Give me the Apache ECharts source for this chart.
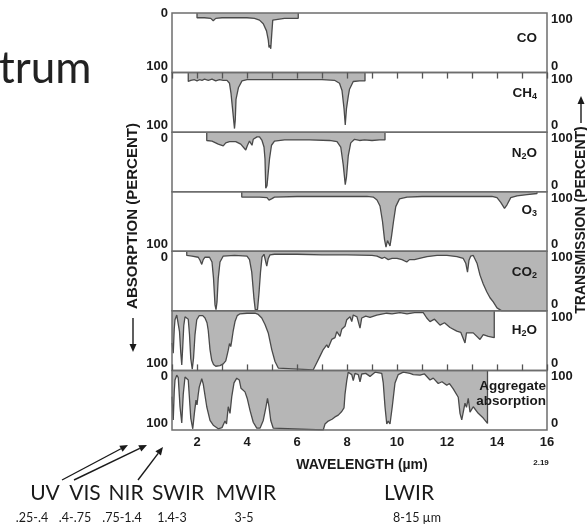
<!DOCTYPE html>
<html>
<head>
<meta charset="utf-8">
<script src="https://cdn.jsdelivr.net/npm/echarts@6/dist/echarts.min.js"></script>
<style>html,body{margin:0;padding:0;background:#fff}#chart{width:587px;height:529px}</style>
</head>
<body>
<div id="chart"></div>
<script>
// absorption (%) per wavelength (um), one array per gas
const coData = [[2,0],[2,8],[2.3,8],[2.55,9],[2.65,13],[2.75,9],[3,8],[3.5,8],[4,8],[4.3,9],[4.5,12],[4.65,18],[4.78,30],[4.85,45],[4.88,58],[4.92,54],[4.95,60],[4.99,35],[5.03,12],[5.1,9],[5.5,9],[6.05,9],[6.05,0]]
const ch4Data = [[1.65,0],[1.65,15],[1.75,13],[1.9,12],[2.0,14],[2.1,12],[2.2,13],[2.3,11],[2.45,13],[2.6,11],[2.75,14],[2.9,12],[3.05,13],[3.2,13],[3.3,18],[3.36,35],[3.42,60],[3.5,94],[3.53,80],[3.56,45],[3.6,46],[3.66,25],[3.8,14],[4,12],[5,12],[6,12],[7,12],[7.5,13],[7.7,18],[7.8,30],[7.88,60],[7.93,88],[7.98,60],[8.05,40],[8.1,28],[8.25,15],[8.5,14],[8.72,14],[8.72,0]]
const n2oData = [[2.39,0],[2.39,14],[2.6,15],[2.85,20],[3.05,23],[3.15,18],[3.3,16],[3.55,16],[3.75,20],[3.95,30],[4.02,22],[4.1,15],[4.2,22],[4.25,12],[4.4,8],[4.5,8],[4.6,14],[4.68,25],[4.72,45],[4.75,94],[4.8,90],[4.85,88],[4.9,45],[4.98,22],[5.1,15],[5.5,13],[6.5,13],[7.3,14],[7.6,16],[7.75,25],[7.85,55],[7.93,88],[7.98,75],[8.05,40],[8.15,18],[8.3,12],[8.5,14],[8.7,13],[9,14],[9.3,13],[9.52,13],[9.52,0]]
const o3Data = [[3.79,0],[3.79,9],[4.5,9],[4.8,10],[4.88,14],[4.93,17],[4.98,12],[5.1,9],[6,8],[7,8],[8,8],[8.8,8],[9.05,9],[9.2,14],[9.32,24],[9.42,50],[9.5,80],[9.56,93],[9.62,82],[9.66,80],[9.72,91],[9.78,75],[9.86,50],[9.95,25],[10.1,12],[10.4,9],[11,8],[12,8],[13,8],[13.8,8],[14.0,10],[14.15,18],[14.3,28],[14.4,22],[14.55,10],[14.8,7],[15.2,5],[15.6,3],[15.6,0]]
const co2Data = [[1.59,0],[1.59,7],[1.8,8],[2.05,10],[2.12,15],[2.19,22],[2.25,14],[2.32,10],[2.5,10],[2.6,18],[2.66,45],[2.72,90],[2.76,98],[2.8,85],[2.85,45],[2.92,18],[3.05,8],[3.5,7],[4.0,8],[4.1,14],[4.19,35],[4.28,80],[4.33,98],[4.42,98],[4.48,70],[4.54,35],[4.6,10],[4.68,5],[4.72,8],[4.79,25],[4.85,12],[4.92,6],[5.1,5],[6,5],[7,6],[8,6],[9,7],[9.2,8],[9.4,12],[9.5,10],[9.65,14],[9.8,12],[10.0,12],[10.2,14],[10.39,18],[10.5,14],[10.7,14],[10.9,12],[11.2,9],[11.6,7],[12,7],[12.4,9],[12.65,12],[12.75,20],[12.82,35],[12.88,15],[12.95,8],[13.05,7],[13.2,20],[13.32,40],[13.45,55],[13.59,68],[13.72,78],[13.85,85],[14.0,95],[14.19,100],[16,100]]
const h2oData = [[1.0,54],[1.05,71],[1.09,30],[1.12,15],[1.19,7],[1.25,10],[1.3,35],[1.35,70],[1.39,91],[1.43,60],[1.47,25],[1.52,10],[1.59,8],[1.65,14],[1.7,40],[1.75,80],[1.81,98],[1.86,80],[1.92,40],[1.99,15],[2.09,8],[2.23,8],[2.32,12],[2.4,20],[2.45,33],[2.52,65],[2.59,83],[2.66,90],[2.75,93],[2.92,92],[3.05,89],[3.15,84],[3.2,75],[3.25,66],[3.3,55],[3.35,60],[3.39,50],[3.45,33],[3.52,18],[3.61,8],[3.72,5],[4.0,4],[4.32,4],[4.45,6],[4.59,12],[4.72,23],[4.85,37],[4.99,65],[5.12,85],[5.25,96],[5.32,99],[6.65,99],[6.79,87],[6.92,76],[7.05,65],[7.19,57],[7.25,62],[7.39,48],[7.52,45],[7.59,35],[7.72,43],[7.79,31],[7.92,26],[7.99,15],[8.12,10],[8.19,18],[8.25,7],[8.4,10],[8.52,29],[8.59,12],[8.75,9],[8.92,11],[9.19,7],[9.59,4],[9.8,5],[10.12,3],[10.4,5],[10.7,3],[11.05,3],[11.19,12],[11.32,18],[11.5,14],[11.72,24],[11.9,20],[12.12,28],[12.39,34],[12.55,36],[12.72,54],[12.78,37],[13.05,37],[13.32,48],[13.45,40],[13.65,43],[13.89,45],[13.89,0]]
const aggData = [[1.0,44],[1.05,83],[1.09,35],[1.12,16],[1.19,8],[1.25,12],[1.32,61],[1.39,88],[1.45,40],[1.52,11],[1.59,8],[1.65,16],[1.75,80],[1.83,98],[1.9,70],[1.96,50],[2.0,58],[2.05,40],[2.09,28],[2.19,14],[2.25,23],[2.39,61],[2.52,84],[2.65,92],[2.85,98],[3.0,96],[3.12,85],[3.18,90],[3.25,61],[3.32,72],[3.39,44],[3.48,21],[3.59,13],[3.69,16],[3.76,30],[3.83,27],[3.92,36],[4.01,47],[4.12,67],[4.25,87],[4.39,97],[4.52,97],[4.65,84],[4.76,61],[4.82,47],[4.88,61],[4.95,84],[5.05,97],[5.12,100],[7.05,100],[7.12,90],[7.25,85],[7.4,82],[7.52,78],[7.65,75],[7.79,69],[7.88,63],[7.92,40],[7.99,17],[8.05,3],[8.12,4],[8.19,7],[8.25,17],[8.32,5],[8.45,7],[8.52,19],[8.59,6],[8.75,5],[8.92,10],[9.12,3],[9.39,5],[9.45,21],[9.52,61],[9.59,90],[9.65,85],[9.72,90],[9.81,61],[9.92,21],[10.05,7],[10.25,3],[10.52,5],[10.65,7],[10.92,8],[11.1,6],[11.32,16],[11.45,13],[11.65,22],[11.8,19],[11.99,25],[12.1,22],[12.25,31],[12.45,45],[12.52,72],[12.59,83],[12.65,70],[12.72,55],[12.78,62],[12.85,47],[12.92,70],[13.05,61],[13.25,72],[13.45,80],[13.62,89],[13.62,0]]

const panelData = [coData, ch4Data, n2oData, o3Data, co2Data, h2oData, aggData]
const panelNames = ['CO', 'CH{s|4}', 'N{s|2}O', 'O{s|3}', 'CO{s|2}', 'H{s|2}O', 'Aggregate\nabsorption']
// left axis labels (top = 0 absorption, bottom = 100), blanks where the figure has none
const leftTopLabels = ['0', '0', '0', '', '0', '', '0']
const leftBottomLabels = ['100', '100', '', '100', '', '100', '100']
const bandNames = ['UV', 'VIS', 'NIR', 'SWIR', 'MWIR', 'LWIR']
const bandRanges = ['.25-.4', '.4-.75', '.75-1.4', '1.4-3', '3-5', '8-15 µm']

const chart = echarts.init(document.getElementById('chart'))

const LEFT = 172, WIDTH = 375, TOP = 13, PH = 59.57
const NARROW = '"Liberation Sans Narrow", "Liberation Sans", Arial, sans-serif'
const INK = '#1a1a1a'
const bandX = [45, 85, 126, 178, 246, 409]
const rangeX = [32, 75, 122, 172, 244, 417]

const grid = [], xAxis = [], yAxis = [], series = []
panelData.forEach((d, i) => {
    grid.push({left: LEFT, top: TOP + i * PH, width: WIDTH, height: PH, show: true,
        borderColor: '#6e6e6e', borderWidth: 1.5, backgroundColor: 'transparent', z: 4})
    xAxis.push({
        gridIndex: i, type: 'value', min: 1, max: 16, interval: 1, z: 5,
        axisLine: {show: false}, splitLine: {show: false},
        axisTick: {show: i === 6, inside: true, length: 6, lineStyle: {color: '#555', width: 1.3}},
        axisLabel: {show: i === 6, margin: 6, color: INK, fontFamily: NARROW, fontWeight: 'bold', fontSize: 13,
            formatter: v => (v % 2 === 0 ? v : '')}
    })
    yAxis.push({
        gridIndex: i, type: 'value', inverse: true, min: 0, max: 100, interval: 100,
        axisLine: {show: false}, axisTick: {show: false}, splitLine: {show: false},
        axisLabel: {margin: 4, color: INK, fontFamily: NARROW, fontWeight: 'bold', fontSize: 13,
            verticalAlignMinLabel: i === 0 ? 'middle' : 'top', verticalAlignMaxLabel: 'bottom',
            formatter: v => (v === 0 ? leftTopLabels[i] : leftBottomLabels[i])}
    })
    yAxis.push({
        gridIndex: i, type: 'value', position: 'right', min: 0, max: 100, interval: 100,
        axisLine: {show: false}, axisTick: {show: false}, splitLine: {show: false},
        axisLabel: {margin: 4, color: INK, fontFamily: NARROW, fontWeight: 'bold', fontSize: 13,
            verticalAlignMinLabel: 'bottom', verticalAlignMaxLabel: 'top'}
    })
    series.push({
        type: 'line', xAxisIndex: i, yAxisIndex: 2 * i, data: d, showSymbol: false, silent: true,
        lineStyle: {color: '#4a4a4a', width: 1.3},
        areaStyle: {color: '#b6b6b6', opacity: 1, origin: 'start'}
    })
})
// ticks along the top of the first panel
xAxis.push({
    gridIndex: 0, type: 'value', position: 'top', min: 1, max: 16, interval: 1, z: 5,
    axisLine: {show: false}, splitLine: {show: false}, axisLabel: {show: false},
    axisTick: {show: true, inside: true, length: 6, lineStyle: {color: '#555', width: 1.3}}
})

function arrow(x1, y1, x2, y2) {
    const a = Math.atan2(y2 - y1, x2 - x1), L = 8, W = 3.5
    const bx = x2 - L * Math.cos(a), by = y2 - L * Math.sin(a)
    return [
        {type: 'line', shape: {x1, y1, x2: bx, y2: by}, style: {stroke: INK, lineWidth: 1.4}},
        {type: 'polygon', shape: {points: [[x2, y2],
            [bx + W * Math.sin(a), by - W * Math.cos(a)], [bx - W * Math.sin(a), by + W * Math.cos(a)]]},
            style: {fill: INK}}
    ]
}

const labelY = [38, 93, 153, 210, 272, 330, 394]
const graphic = [
    {type: 'text', x: -1, y: 47, style: {text: 'trum', fontFamily: 'Lato, "Open Sans", sans-serif', fontSize: 44,
        fill: '#222', verticalAlign: 'alphabetic'}},
    {type: 'text', x: 133, y: 216, rotation: Math.PI / 2, style: {text: 'ABSORPTION (PERCENT)', fontFamily: '"Liberation Sans", Arial',
        fontWeight: 'bold', fontSize: 15, fill: INK, align: 'center', verticalAlign: 'middle'}},
    ...arrow(133, 318, 133, 352),
    {type: 'text', x: 581, y: 220, rotation: Math.PI / 2, style: {text: 'TRANSMISSION (PERCENT)', fontFamily: '"Liberation Sans", Arial',
        fontWeight: 'bold', fontSize: 14, fill: INK, align: 'center', verticalAlign: 'middle'}},
    ...arrow(581, 123, 581, 96),
    {type: 'text', x: 362, y: 465, style: {text: 'WAVELENGTH (µm)', fontFamily: NARROW, fontWeight: 'bold', fontSize: 14,
        fill: INK, align: 'center', verticalAlign: 'middle'}},
    {type: 'text', x: 541, y: 463, style: {text: '2.19', fontFamily: NARROW, fontWeight: 'bold', fontSize: 8,
        fill: INK, align: 'center', verticalAlign: 'middle'}},
    ...arrow(62, 480, 128, 445),
    ...arrow(74, 480, 147, 445),
    ...arrow(138, 480, 163, 447)
]
panelNames.forEach((t, i) => {
    graphic.push({type: 'text', x: i === 6 ? 546 : 537, y: labelY[i], z: 10, style: {
        text: t, fontFamily: NARROW, fontWeight: 'bold', fontSize: 13.5, fill: INK,
        align: 'right', verticalAlign: 'middle', lineHeight: 15,
        rich: {s: {fontFamily: NARROW, fontWeight: 'bold', fontSize: 9, padding: [7, 0, 0, 0]}}}})
})
bandNames.forEach((t, i) => {
    graphic.push({type: 'text', x: bandX[i], y: 493, style: {text: t, fontFamily: 'Lato, "Open Sans", sans-serif',
        fontSize: 21, fill: INK, align: 'center', verticalAlign: 'middle'}})
    graphic.push({type: 'text', x: rangeX[i], y: 518, style: {text: bandRanges[i], fontFamily: 'Lato, "Open Sans", sans-serif',
        fontSize: 12.5, fill: INK, align: 'center', verticalAlign: 'middle'}})
})

chart.setOption({animation: false, grid, xAxis, yAxis, series, graphic})
</script>
</body>
</html>
